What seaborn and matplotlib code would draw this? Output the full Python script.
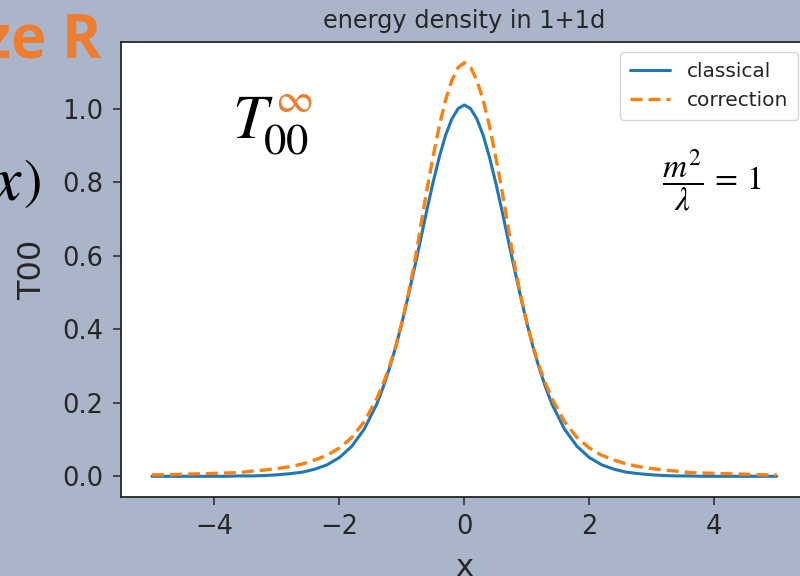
import matplotlib
matplotlib.use("Agg")
import matplotlib.pyplot as plt
import seaborn as sns
import pandas as pd

# values
x_vals = [-5.0, -4.8, -4.6, -4.4, -4.2, -4.0, -3.8, -3.6, -3.4, -3.2, -3.0, -2.8, -2.6,
          -2.4, -2.2, -2.0, -1.8, -1.6, -1.4, -1.3, -1.2, -1.1, -1.0, -0.9, -0.8, -0.7,
          -0.6, -0.5, -0.4, -0.3, -0.2, -0.1, 0.0, 0.1, 0.2, 0.3, 0.4, 0.5, 0.6, 0.7,
          0.8, 0.9, 1.0, 1.1, 1.2, 1.3, 1.4, 1.6, 1.8, 2.0, 2.2, 2.4, 2.6, 2.8, 3.0,
          3.2, 3.4, 3.6, 3.8, 4.0, 4.2, 4.4, 4.6, 4.8, 5.0]
classical = [0.000, 0.000, 0.000, 0.000, 0.000, 0.000, 0.000, 0.001, 0.001, 0.002, 0.004, 0.007, 0.011,
             0.019, 0.031, 0.051, 0.082, 0.129, 0.197, 0.242, 0.293, 0.351, 0.417, 0.489, 0.565, 0.644,
             0.724, 0.800, 0.869, 0.928, 0.972, 1.000, 1.010, 1.000, 0.972, 0.928, 0.869, 0.800, 0.724, 0.644,
             0.565, 0.489, 0.417, 0.351, 0.293, 0.242, 0.197, 0.129, 0.082, 0.051, 0.031, 0.019, 0.011, 0.007, 0.004,
             0.002, 0.001, 0.001, 0.000, 0.000, 0.000, 0.000, 0.000, 0.000, 0.000]
correction = [0.004, 0.004, 0.005, 0.006, 0.007, 0.008, 0.009, 0.010, 0.014, 0.017, 0.021, 0.026, 0.033,
              0.044, 0.057, 0.077, 0.106, 0.149, 0.212, 0.252, 0.298, 0.353, 0.418, 0.493, 0.578, 0.679,
              0.779, 0.870, 0.954, 1.024, 1.077, 1.112, 1.125, 1.112, 1.077, 1.024, 0.954, 0.870, 0.779, 0.679,
              0.578, 0.493, 0.418, 0.353, 0.298, 0.252, 0.212, 0.149, 0.106, 0.077, 0.057, 0.044, 0.033, 0.026, 0.021,
              0.017, 0.014, 0.010, 0.009, 0.008, 0.007, 0.006, 0.005, 0.004, 0.004]

bg = "#abb5c9"
orange = "#ed7d31"

sns.set_style("ticks", {"axes.edgecolor": ".15", "figure.facecolor": bg})
plt.rcParams["font.family"] = ["DejaVu Sans"]

df = pd.DataFrame({"x": x_vals, "classical": classical, "correction": correction})

fig = plt.figure(figsize=(8, 5.76), dpi=100)
ax = fig.add_axes([0.1509, 0.1372, 0.8591, 0.7899])

sns.lineplot(data=df, x="x", y="classical", ax=ax, color="#1f77b4", lw=2.2, label="classical")
sns.lineplot(data=df, x="x", y="correction", ax=ax, color="#ff7f0e", lw=2.4,
             linestyle=(0, (3.6, 1.8)), label="correction")

ax.set_title("energy density in 1+1d", fontsize=17.3, pad=10)
ax.set_xlabel("x", fontsize=22)
ax.set_ylabel("T00", fontsize=23)
ax.xaxis.set_label_coords(0.5, -0.123)
ax.yaxis.set_label_coords(-0.105, 0.5)
ax.tick_params(labelsize=18.5, length=5.5, width=1.1, pad=7)
for s in ax.spines.values():
    s.set_linewidth(1.3)

ax.legend(loc="upper right", fontsize=14.5, frameon=True, framealpha=0.8,
          edgecolor="#cccccc", fancybox=True, borderpad=0.5)

# slide overlays
fig.text(232 / 800, 1 - 138 / 576, r"$T$", fontsize=45, color="black",
         math_fontfamily="stix", ha="left", va="baseline")
fig.text(263 / 800, 1 - 153 / 576, r"$\mathrm{00}$", fontsize=32, color="black",
         math_fontfamily="stix", ha="left", va="baseline")
fig.text(294 / 800, 1 - 100 / 576, r"$\infty$", fontsize=30, color=orange,
         math_fontfamily="stix", ha="center", va="center")
fig.text(662 / 800, 1 - 181 / 576, r"$\dfrac{m^2}{\lambda}\,=\,1$", fontsize=24,
         math_fontfamily="stix", ha="left", va="center", color="black")
fig.text(101 / 800, 1 - 58 / 576, "ze R", fontsize=43, fontweight="bold",
         family="Open Sans", color=orange, ha="right", va="baseline")
fig.text(23 / 800, 1 - 199 / 576, r"$x$", fontsize=46, math_fontfamily="stix",
         ha="right", va="baseline", color="black")
fig.text(23 / 800, 1 - 198 / 576, r"$)$", fontsize=40, math_fontfamily="stix",
         ha="left", va="baseline", color="black")

fig.savefig("out.png", dpi=100, facecolor=fig.get_facecolor())
